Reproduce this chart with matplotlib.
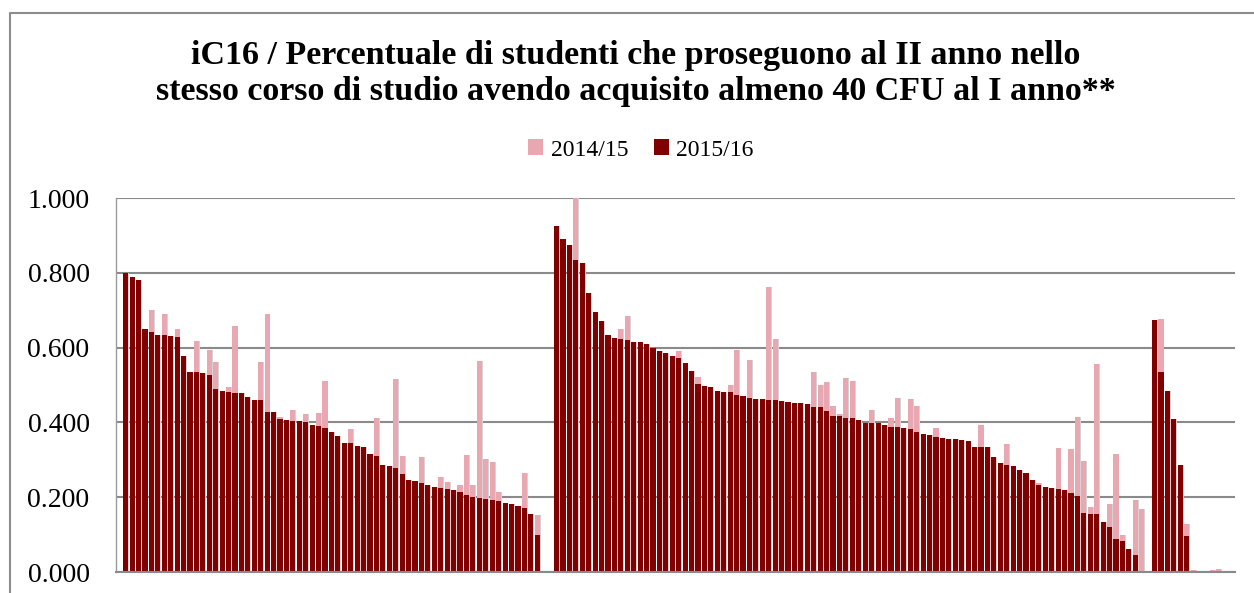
import numpy as np
import matplotlib
matplotlib.use("Agg")
import matplotlib.pyplot as plt
from matplotlib.patches import Patch
from matplotlib.lines import Line2D

nan = np.nan

# ---- data (ordered categories; NaN = empty slot) ----
g1_1516 = [0.800, 0.788, 0.780, 0.649, 0.643, 0.635, 0.635, 0.631, 0.628, 0.577,
           0.534, 0.534, 0.533, 0.527, 0.489, 0.484, 0.480, 0.479, 0.479, 0.469,
           0.460, 0.460, 0.428, 0.428, 0.409, 0.407, 0.405, 0.404, 0.402, 0.394,
           0.391, 0.384, 0.375, 0.363, 0.345, 0.345, 0.336, 0.334, 0.315, 0.309,
           0.287, 0.283, 0.279, 0.261, 0.247, 0.244, 0.239, 0.232, 0.227, 0.224,
           0.222, 0.220, 0.213, 0.206, 0.201, 0.199, 0.195, 0.192, 0.189, 0.185,
           0.183, 0.176, 0.171, 0.155, 0.098]
g1_1415 = [0.800, 0.788, 0.780, 0.649, 0.700, 0.635, 0.691, 0.631, 0.651, 0.577,
           0.534, 0.617, 0.533, 0.594, 0.561, 0.484, 0.494, 0.657, 0.479, 0.469,
           0.460, 0.561, 0.691, 0.428, 0.415, 0.407, 0.433, 0.404, 0.422, 0.394,
           0.425, 0.511, 0.375, 0.363, 0.345, 0.382, 0.336, 0.334, 0.315, 0.412,
           0.287, 0.283, 0.517, 0.309, 0.247, 0.244, 0.307, 0.232, 0.227, 0.254,
           0.240, 0.220, 0.232, 0.313, 0.232, 0.564, 0.302, 0.295, 0.214, 0.185,
           0.183, 0.176, 0.265, 0.155, 0.152]

g2_1516 = [0.924, 0.891, 0.875, 0.833, 0.827, 0.746, 0.695, 0.672, 0.635, 0.626,
           0.623, 0.620, 0.615, 0.614, 0.609, 0.599, 0.590, 0.585, 0.577, 0.573,
           0.560, 0.537, 0.504, 0.498, 0.495, 0.483, 0.480, 0.480, 0.474, 0.470,
           0.464, 0.463, 0.463, 0.460, 0.460, 0.457, 0.454, 0.452, 0.452, 0.449,
           0.441, 0.441, 0.431, 0.418, 0.416, 0.413, 0.411, 0.407, 0.399, 0.399,
           0.398, 0.394, 0.389, 0.389, 0.384, 0.382, 0.374, 0.370, 0.365, 0.361,
           0.359, 0.356, 0.355, 0.354, 0.350, 0.333, 0.333, 0.333, 0.307, 0.292,
           0.287, 0.284, 0.273, 0.265, 0.247, 0.233, 0.228, 0.225, 0.223, 0.218,
           0.212, 0.204, 0.159, 0.154, 0.154, 0.135, 0.120, 0.088, 0.082, 0.061,
           0.045, nan]
g2_1415 = [0.924, 0.891, 0.875, 1.000, 0.827, 0.746, 0.695, 0.672, 0.635, 0.626,
           0.650, 0.685, 0.615, 0.614, 0.609, 0.599, 0.590, 0.585, 0.577, 0.591,
           0.560, 0.537, 0.521, 0.498, 0.495, 0.483, 0.480, 0.499, 0.593, 0.470,
           0.567, 0.463, 0.463, 0.761, 0.624, 0.457, 0.454, 0.452, 0.452, 0.449,
           0.536, 0.499, 0.509, 0.443, 0.423, 0.519, 0.511, 0.407, 0.399, 0.433,
           0.398, 0.394, 0.413, 0.466, 0.384, 0.463, 0.444, 0.370, 0.365, 0.386,
           0.359, 0.356, 0.355, 0.354, 0.350, 0.333, 0.394, 0.333, 0.307, 0.292,
           0.342, 0.284, 0.273, 0.265, 0.247, 0.238, 0.228, 0.225, 0.332, 0.218,
           0.330, 0.415, 0.298, 0.175, 0.555, 0.135, 0.182, 0.315, 0.100, 0.061,
           0.192, 0.169]

g3_1516 = [0.674, 0.534, 0.485, 0.409, 0.287, 0.096, nan]
g3_1415 = [0.674, 0.677, 0.485, 0.409, 0.287, 0.129, 0.006]

g4_1516 = [nan, nan]
g4_1415 = [0.006, 0.009]

series_labels = ["2014/15", "2015/16"]
yticks = [0.0, 0.2, 0.4, 0.6, 0.8, 1.0]
title_lines = ["iC16 / Percentuale di studenti che proseguono al II anno nello",
               "stesso corso di studio avendo acquisito almeno 40 CFU al I anno**"]


def assemble(a, b, c, d):
    return np.array([nan] + a + [nan, nan] + b + [nan] + c + [nan, nan] + d + [nan, nan])


v1516 = assemble(g1_1516, g2_1516, g3_1516, g4_1516)
v1415 = assemble(g1_1415, g2_1415, g3_1415, g4_1415)

PINK = "#E9A7B2"
DARK = "#800000"
GRID = "#8A8A8A"
SERIF = ["Liberation Serif", "DejaVu Serif"]

W, H = 1254, 593
fig = plt.figure(figsize=(W / 100, H / 100), dpi=100)
ax = fig.add_axes([116 / W, 1 - 572 / H, (1235 - 116) / W, (572 - 198) / H])

x = np.arange(len(v1516))
# soft shadow
ax.bar(x + 0.12, np.nan_to_num(np.fmax(v1415, v1516)), width=0.8, color="#d4d4d4", zorder=1.5, linewidth=0)
ax.bar(x, v1415, width=0.8, color=PINK, zorder=2, linewidth=0, label=series_labels[0])
ax.bar(x, v1516, width=0.8, color=DARK, zorder=3, linewidth=0, label=series_labels[1])

ax.set_xlim(-0.5, len(x) - 0.5)
ax.set_ylim(0, 1.0)
ax.set_yticks(yticks)
ax.set_yticklabels([f"{t:.3f}" for t in yticks], family=SERIF, fontsize=20)
ax.tick_params(axis="y", length=0, pad=19)
ax.set_xticks([])
ax.yaxis.grid(True, color=GRID, linewidth=1.5, zorder=1)
ax.set_axisbelow(True)
for s in ["top", "right"]:
    ax.spines[s].set_visible(False)
ax.spines["left"].set_color("#9a9a9a")
ax.spines["left"].set_linewidth(1.0)
ax.spines["bottom"].set_color(GRID)
ax.spines["bottom"].set_linewidth(1.5)
ax.spines["bottom"].set_zorder(4)

# title
fig.text(636 / W, 1 - 64 / H, title_lines[0], ha="center", va="baseline",
         family=SERIF, fontsize=24.5, fontweight="bold")
fig.text(636 / W, 1 - 100 / H, title_lines[1], ha="center", va="baseline",
         family=SERIF, fontsize=24.5, fontweight="bold")

# legend
handles = [Patch(facecolor=PINK, edgecolor="none"), Patch(facecolor=DARK, edgecolor="none")]
fig.legend(handles, series_labels, loc="center", bbox_to_anchor=(641 / W, 1 - 150 / H),
           ncol=2, frameon=False, prop={"family": SERIF, "size": 17},
           handlelength=0.65, handleheight=0.65, handletextpad=0.3, columnspacing=1.1)

# chart border
fig.add_artist(Line2D([10 / W, 10 / W, 1.0], [0, 1 - 13 / H, 1 - 13 / H],
                      transform=fig.transFigure, color="#8c8c8c", linewidth=1.5))

fig.savefig("out.png", dpi=100)
